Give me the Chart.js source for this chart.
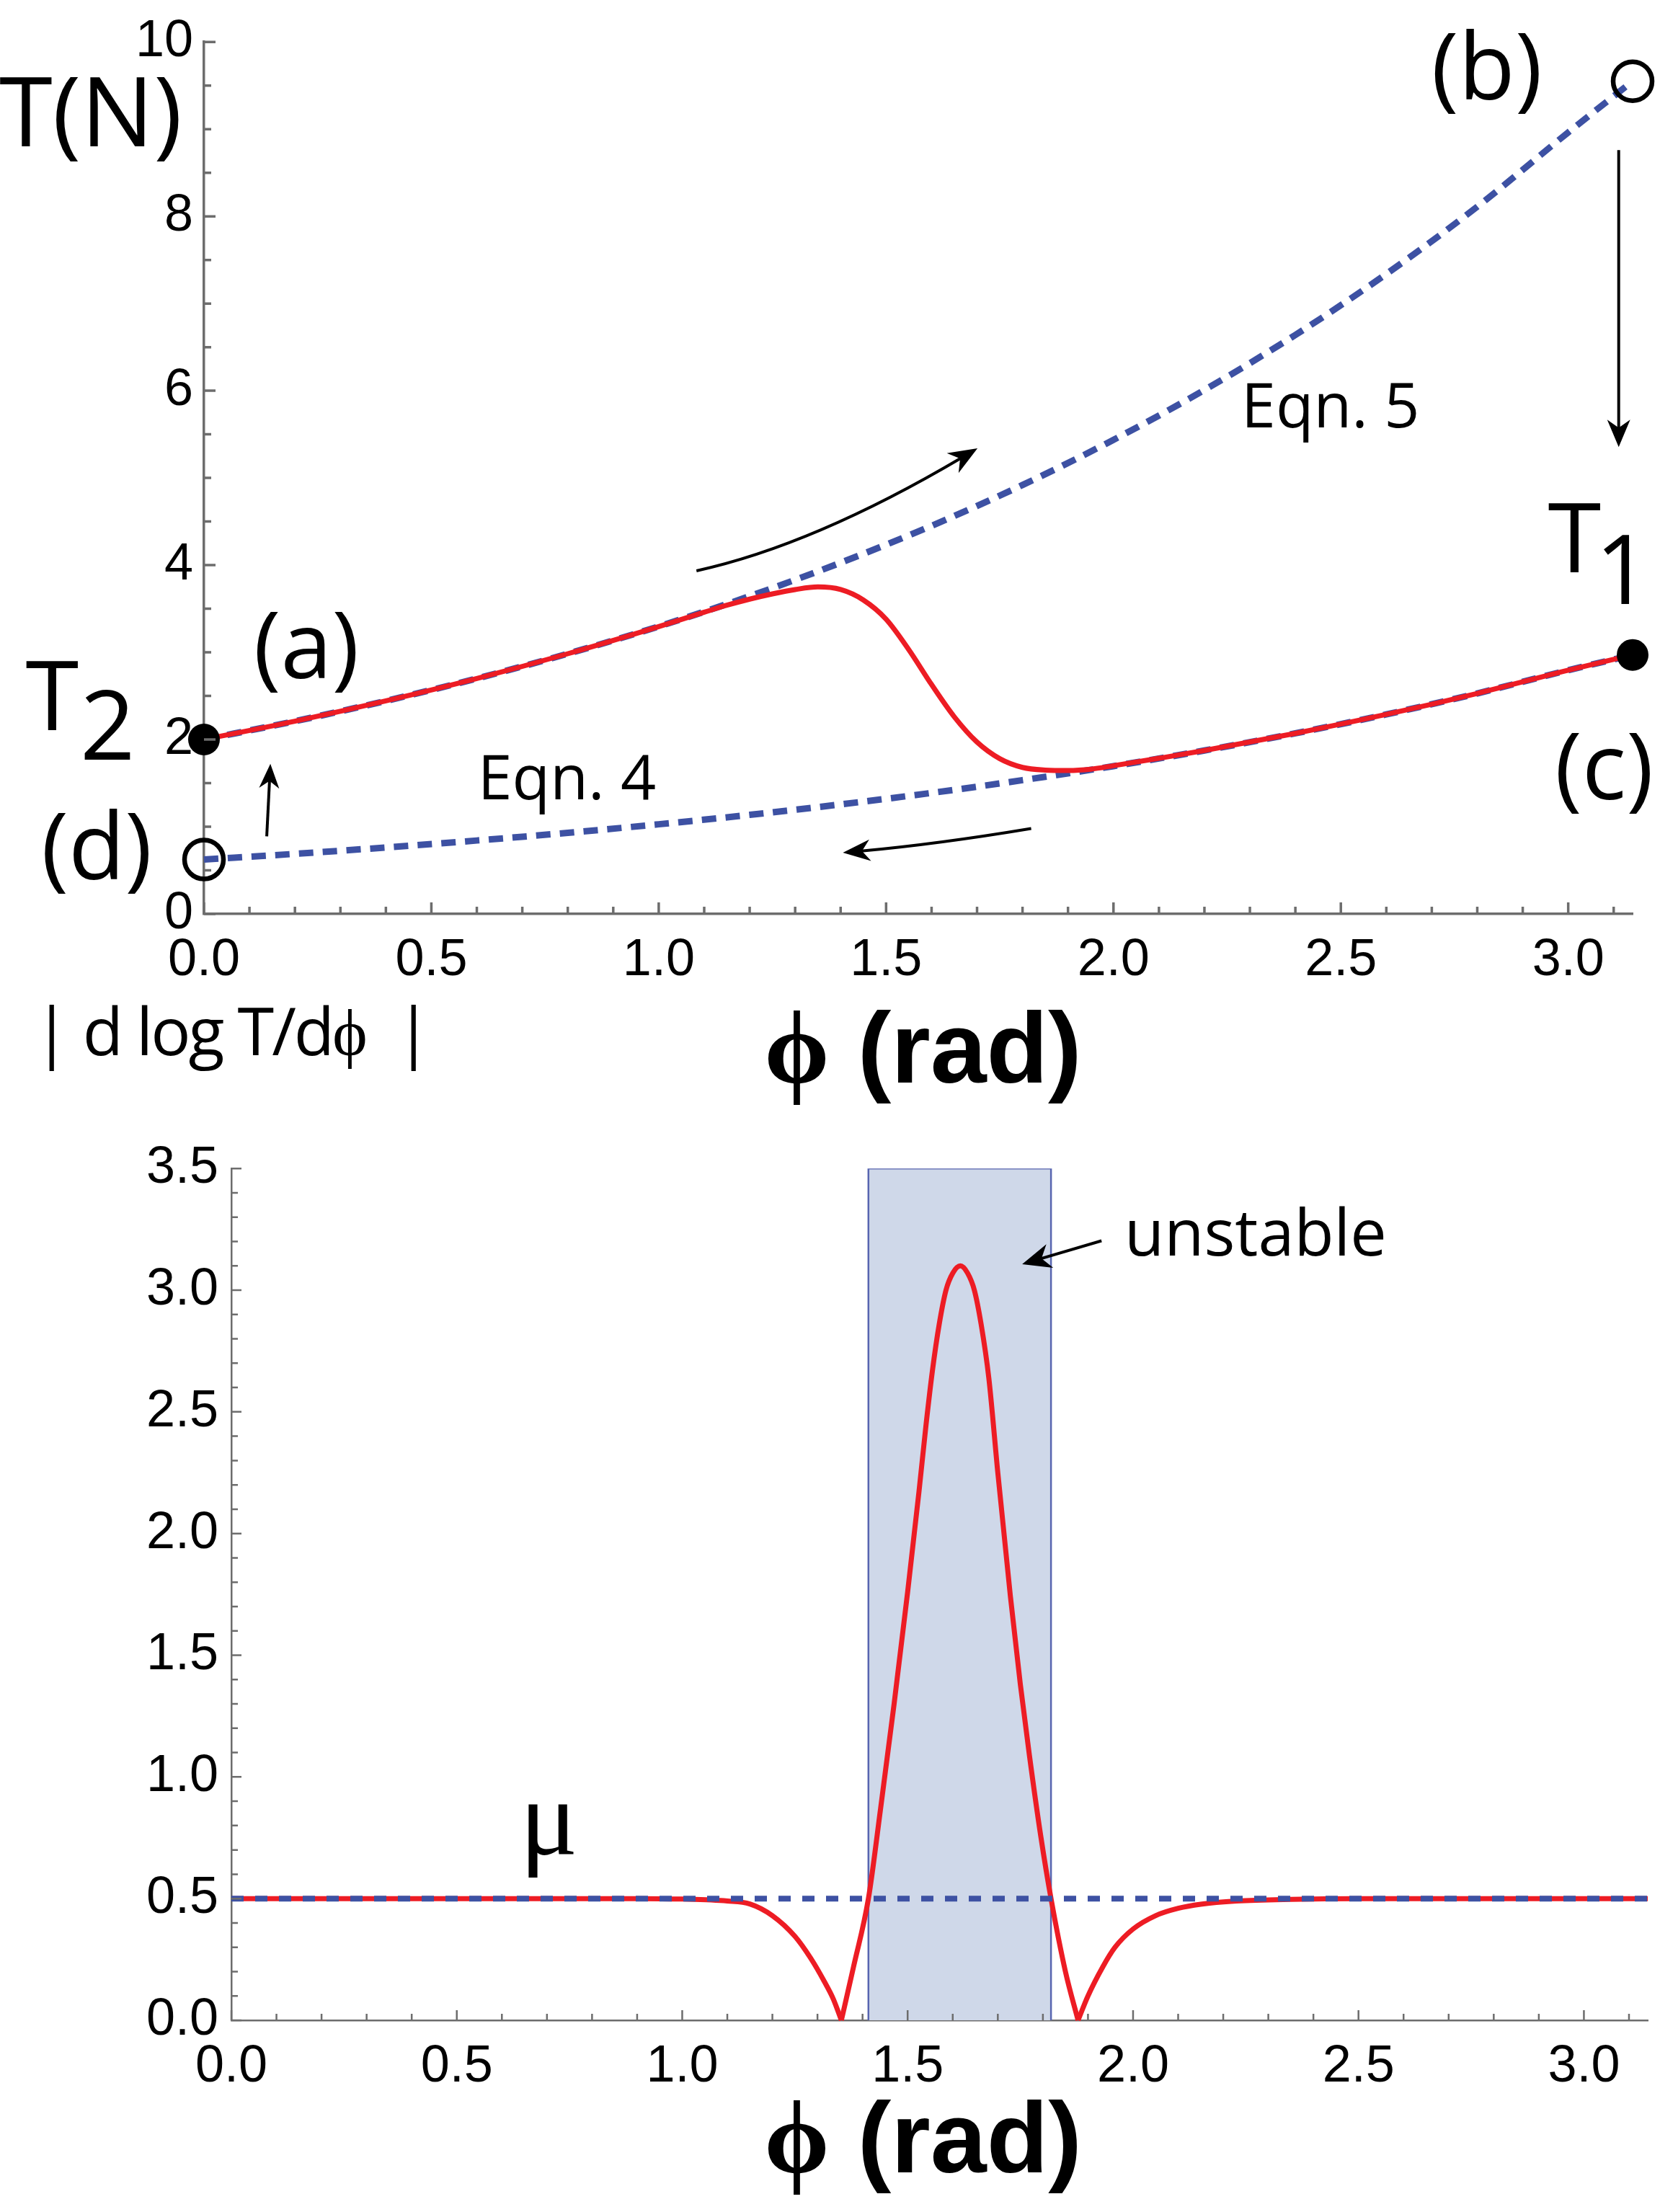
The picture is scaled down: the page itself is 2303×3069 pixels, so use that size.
<!DOCTYPE html>
<html>
<head>
<meta charset="utf-8">
<title>Tension vs wrap angle</title>
<script src="https://cdn.jsdelivr.net/npm/chart.js@4.4.1/dist/chart.umd.min.js"></script>
<style>
  html, body { margin: 0; padding: 0; background: #fff; }
  body { width: 2303px; height: 3069px; position: relative; overflow: hidden; }
  canvas { position: absolute; left: 0; }
  #topChart { top: 0; }
  #bottomChart { top: 1560px; }
</style>
</head>
<body>
<canvas id="topChart" width="2303" height="1560"></canvas>
<canvas id="bottomChart" width="2303" height="1509"></canvas>
<script>
'use strict';

// ---- top panel: T(N) against phi ----
const redPhi = [0, 0.2, 0.4, 0.6, 0.8, 1.0, 1.1, 1.15, 1.2, 1.25, 1.3, 1.35, 1.4, 1.45, 1.5, 1.55,
  1.6, 1.65, 1.7, 1.75, 1.8, 1.85, 1.9, 1.95, 2.0, 2.1, 2.2, 2.4, 2.6, 2.8, 3.0, 3.1416];
const redT = [2.000, 2.210, 2.443, 2.700, 2.984, 3.295, 3.460, 3.540, 3.610, 3.670, 3.720, 3.750,
  3.720, 3.600, 3.380, 3.030, 2.630, 2.260, 1.970, 1.780, 1.680, 1.650, 1.645, 1.660, 1.700,
  1.785, 1.874, 2.071, 2.288, 2.529, 2.795, 2.970];

const eqnPhi = [0, 0.2, 0.4, 0.6, 0.8, 1.0, 1.2, 1.4, 1.6, 1.8, 2.0, 2.2, 2.4, 2.6, 2.8, 3.0, 3.1416];
const eqn5T = [2.000, 2.210, 2.443, 2.700, 2.984, 3.297, 3.644, 4.028, 4.451, 4.919, 5.437,
  6.009, 6.640, 7.339, 8.111, 8.963, 9.550];
const eqn4T = [0.624, 0.689, 0.762, 0.842, 0.930, 1.028, 1.136, 1.256, 1.388, 1.534, 1.695,
  1.874, 2.071, 2.288, 2.529, 2.795, 2.970];

const endPhi = [0, 3.1416];
const closedT = [2.0, 2.97];   // T2 (a) and T1 (c)
const openT = [0.624, 9.55];   // (d) and (b)

const topXTicks = [0, 0.5, 1.0, 1.5, 2.0, 2.5, 3.0];
const topXLabels = ['0.0', '0.5', '1.0', '1.5', '2.0', '2.5', '3.0'];
const topYTicks = [0, 2, 4, 6, 8, 10];
const topYLabels = ['0', '2', '4', '6', '8', '10'];

// ---- bottom panel: |d log T / d phi| ----
const gradPhi = [0, 0.5, 0.9, 1.0, 1.1, 1.15, 1.2, 1.25, 1.285, 1.315, 1.335, 1.353, 1.38, 1.413,
  1.44, 1.47, 1.5, 1.525, 1.541, 1.555, 1.57, 1.585, 1.6, 1.617, 1.633, 1.648, 1.663, 1.68, 1.7,
  1.728, 1.75, 1.77, 1.795, 1.818, 1.85, 1.878, 1.9, 1.933, 1.96, 2.0, 2.05, 2.1, 2.15, 2.23,
  2.35, 2.5, 3.1416];
const gradVal = [0.5, 0.5, 0.5, 0.498, 0.49, 0.478, 0.43, 0.345, 0.255, 0.16, 0.088, 0.0, 0.22, 0.5,
  0.87, 1.3, 1.76, 2.17, 2.45, 2.67, 2.86, 3.0, 3.07, 3.1, 3.07, 3.0, 2.86, 2.64, 2.25,
  1.74, 1.38, 1.09, 0.76, 0.5, 0.2, 0.0, 0.1, 0.22, 0.3, 0.375, 0.43, 0.46, 0.477, 0.49,
  0.497, 0.5, 0.5];

const muPhi = [0, 3.1416];
const muVal = [0.5, 0.5];

const unstablePhi = [1.413, 1.818];
const unstableTop = 3.5;

const botXTicks = [0, 0.5, 1.0, 1.5, 2.0, 2.5, 3.0];
const botXLabels = ['0.0', '0.5', '1.0', '1.5', '2.0', '2.5', '3.0'];
const botYTicks = [0, 0.5, 1.0, 1.5, 2.0, 2.5, 3.0, 3.5];
const botYLabels = ['0.0', '0.5', '1.0', '1.5', '2.0', '2.5', '3.0', '3.5'];

// ---- styling ----
const RED = '#ed1c24';
const BLUE = '#3d51a3';
const AXIS = '#6d6d6d';
const SANS = '"Open Sans", "Noto Sans", sans-serif';
const SERIF = '"Liberation Serif", "DejaVu Serif", serif';
const TICKFONT = '"Liberation Sans", Arial, sans-serif';

const pts = (xs, ys) => xs.map((x, i) => ({ x: x, y: ys[i] }));

function arrowHead(ctx, x, y, ang, len, wid) {
  ctx.save();
  ctx.translate(x, y);
  ctx.rotate(ang);
  ctx.beginPath();
  ctx.moveTo(0, 0);
  ctx.lineTo(-len, -wid / 2);
  ctx.lineTo(-len * 0.7, 0);
  ctx.lineTo(-len, wid / 2);
  ctx.closePath();
  ctx.fill();
  ctx.restore();
}

function drawRuns(ctx, runs, x, y, align, spacing) {
  ctx.letterSpacing = spacing || '0px';
  let total = 0;
  runs.forEach(([t, f]) => { ctx.font = f; total += ctx.measureText(t).width; });
  let cx = align === 'center' ? x - total / 2 : x;
  ctx.textAlign = 'left';
  ctx.textBaseline = 'alphabetic';
  runs.forEach(([t, f]) => {
    ctx.font = f;
    ctx.fillText(t, cx, y);
    cx += ctx.measureText(t).width;
  });
  ctx.letterSpacing = '0px';
}

// text labels and arrows, placed in data units of the chart
function notesPlugin(id, notes) {
  return {
    id: id,
    afterDraw(chart) {
      const { ctx } = chart;
      const sx = chart.scales.x, sy = chart.scales.y;
      const P = p => [sx.getPixelForValue(p[0]), sy.getPixelForValue(p[1])];
      ctx.save();
      ctx.fillStyle = '#000';
      ctx.strokeStyle = '#000';
      notes.forEach(n => {
        if (n.runs) {
          const [x, y] = P(n.at);
          drawRuns(ctx, n.runs, x, y, n.align || 'center', n.spacing);
          return;
        }
        const a = P(n.from), b = P(n.to);
        const c = n.via ? P(n.via) : a;
        const ang = Math.atan2(b[1] - c[1], b[0] - c[0]);
        const [len, wid] = n.head;
        const ex = b[0] - Math.cos(ang) * len * 0.6;
        const ey = b[1] - Math.sin(ang) * len * 0.6;
        ctx.lineWidth = n.width || 4;
        ctx.beginPath();
        ctx.moveTo(a[0], a[1]);
        if (n.via) ctx.quadraticCurveTo(c[0], c[1], ex, ey);
        else ctx.lineTo(ex, ey);
        ctx.stroke();
        arrowHead(ctx, b[0], b[1], ang, len, wid);
      });
      ctx.restore();
    }
  };
}

// inward tick marks (major + minor), like the original frame
function ticksPlugin(id, spec) {
  return {
    id: id,
    afterDraw(chart) {
      const { ctx, chartArea: area } = chart;
      const sx = chart.scales.x, sy = chart.scales.y;
      const isMajor = (v, step) => Math.abs(v / step - Math.round(v / step)) < 1e-6;
      ctx.save();
      ctx.strokeStyle = AXIS;
      ctx.lineWidth = spec.width;
      ctx.beginPath();
      for (let i = 0; i * spec.xMinor <= sx.max + 1e-9; i++) {
        const v = i * spec.xMinor;
        const p = sx.getPixelForValue(v);
        const len = isMajor(v, spec.xMajor) ? spec.major : spec.minor;
        ctx.moveTo(p, area.bottom);
        ctx.lineTo(p, area.bottom - len);
      }
      for (let i = 0; i * spec.yMinor <= sy.max + 1e-9; i++) {
        const v = i * spec.yMinor;
        const p = sy.getPixelForValue(v);
        const len = isMajor(v, spec.yMajor) ? spec.major : spec.minor;
        ctx.moveTo(area.left, p);
        ctx.lineTo(area.left + len, p);
      }
      ctx.stroke();
      ctx.restore();
    }
  };
}

function axis(opts) {
  return {
    type: 'linear',
    position: opts.position,
    min: opts.min,
    max: opts.max,
    grid: { display: false, drawTicks: false },
    border: { display: true, color: AXIS, width: opts.borderWidth },
    afterBuildTicks: scale => { scale.ticks = opts.ticks.map(v => ({ value: v })); },
    afterFit: scale => {
      if (opts.position === 'left') scale.width = opts.size;
      else scale.height = opts.size;
    },
    ticks: {
      autoSkip: false,
      maxRotation: 0,
      padding: opts.padding,
      color: '#000',
      font: { family: TICKFONT, size: 72 },
      callback: (value, index) => opts.labels[index]
    }
  };
}

const baseOptions = (padding, xAxis, yAxis) => ({
  responsive: false,
  animation: false,
  devicePixelRatio: 1,
  events: [],
  layout: { padding: padding, autoPadding: false },
  plugins: { legend: { display: false }, tooltip: { enabled: false } },
  elements: { point: { radius: 0 } },
  scales: { x: xAxis, y: yAxis }
});

// ---- top chart ----
const F_BIG = '134px ' + SANS;
const F_PAR = '128px ' + SANS;
const F_EQN = '86px ' + SANS;
const F_YLAB = '92px ' + SANS;
const F_PHI = 'bold 145px ' + SERIF;
const F_RAD = 'bold 140px "Liberation Sans", Arial, sans-serif';

const topNotes = [
  { runs: [['T(N)', F_BIG]], at: [-0.249, 8.80] },
  { runs: [['(b)', F_PAR]], at: [2.821, 9.339] },
  { runs: [['Eqn. 5', F_EQN]], at: [2.477, 5.576] },
  { runs: [['T', F_BIG]], at: [3.014, 3.918] },
  { runs: [['1', F_BIG]], at: [3.120, 3.551] },
  { runs: [['(c)', F_PAR]], at: [3.079, 1.314] },
  { runs: [['(a)', F_PAR]], at: [0.225, 2.702] },
  { runs: [['T', F_BIG]], at: [-0.334, 2.106] },
  { runs: [['2', F_BIG]], at: [-0.212, 1.771] },
  { runs: [['Eqn. 4', F_EQN]], at: [0.798, 1.314] },
  { runs: [['(d)', F_PAR]], at: [-0.236, 0.40] },
  { runs: [['| d log T/d', F_YLAB], ['\u03D5', '92px ' + SERIF], ['  |', F_YLAB]],
    at: [-0.375, -1.624], align: 'left', spacing: '-3px' },
  { runs: [['\u03D5', F_PHI], [' (rad)', F_RAD]], at: [1.232, -1.935], align: 'left' },
  { from: [1.083, 3.935], via: [1.341, 4.229], to: [1.701, 5.339], head: [40, 32] },
  { from: [3.111, 8.759], to: [3.111, 5.355], head: [38, 32] },
  { from: [1.819, 0.980], via: [1.612, 0.800], to: [1.405, 0.702], head: [38, 30] },
  { from: [0.138, 0.890], to: [0.146, 1.722], head: [34, 28] }
];

new Chart(document.getElementById('topChart'), {
  type: 'line',
  data: {
    datasets: [
      { label: 'T1, T2', data: pts(endPhi, closedT), showLine: false, pointRadius: 22,
        pointBackgroundColor: '#000', pointBorderWidth: 0, clip: false, order: 0 },
      { label: '(b), (d)', data: pts(endPhi, openT), showLine: false, pointRadius: 27,
        pointBackgroundColor: 'rgba(0,0,0,0)', pointBorderColor: '#000', pointBorderWidth: 6.5,
        clip: false, order: 1 },
      { label: 'T', data: pts(redPhi, redT), borderColor: RED, borderWidth: 7,
        cubicInterpolationMode: 'monotone', clip: false, order: 2 },
      { label: 'Eqn. 5', data: pts(eqnPhi, eqn5T), borderColor: BLUE, borderWidth: 9,
        borderDash: [20, 13], cubicInterpolationMode: 'monotone', clip: false, order: 3 },
      { label: 'Eqn. 4', data: pts(eqnPhi, eqn4T), borderColor: BLUE, borderWidth: 9,
        borderDash: [20, 13], cubicInterpolationMode: 'monotone', clip: false, order: 4 }
    ]
  },
  options: baseOptions(
    { top: 43, right: 38, bottom: 172, left: 0 },
    axis({ position: 'bottom', min: 0, max: Math.PI, ticks: topXTicks, labels: topXLabels,
      size: 120, padding: 22, borderWidth: 3.5 }),
    axis({ position: 'left', min: 0, max: 10, ticks: topYTicks, labels: topYLabels,
      size: 283, padding: 15, borderWidth: 3.5 })
  ),
  plugins: [
    ticksPlugin('topTicks', { xMinor: 0.1, xMajor: 0.5, yMinor: 0.5, yMajor: 2, major: 16, minor: 10, width: 3.5 }),
    notesPlugin('topNotes', topNotes)
  ]
});

// ---- bottom chart ----
const bottomNotes = [
  { runs: [['unstable', '90px ' + SANS]], at: [1.981, 3.142], align: 'left' },
  { from: [1.930, 3.203], to: [1.754, 3.107], head: [40, 34] },
  { runs: [['\u03BC', '150px ' + SERIF]], at: [0.704, 0.681] },
  { runs: [['\u03D5', F_PHI], [' (rad)', F_RAD]], at: [1.182, -0.626], align: 'left' }
];

const boxPts = [
  { x: unstablePhi[0], y: 0 },
  { x: unstablePhi[0], y: unstableTop },
  { x: unstablePhi[1], y: unstableTop },
  { x: unstablePhi[1], y: 0 }
];

// the red curve has two sharp zeros (cusps): draw it in three smooth pieces split there
const cusps = gradVal.map((v, i) => (v === 0 ? i : -1)).filter(i => i >= 0);
const gradPieces = [
  [0, cusps[0]],
  [cusps[0], cusps[1]],
  [cusps[1], gradPhi.length - 1]
].map(([a, b]) => pts(gradPhi.slice(a, b + 1), gradVal.slice(a, b + 1)));

new Chart(document.getElementById('bottomChart'), {
  type: 'line',
  data: {
    datasets: [
      { label: 'mu', data: pts(muPhi, muVal), borderColor: BLUE, borderWidth: 8,
        borderDash: [17, 16], clip: false, order: 0 },
      ...gradPieces.map(piece => ({
        label: '|d log T/d phi|', data: piece, borderColor: RED, borderWidth: 7,
        cubicInterpolationMode: 'monotone', clip: false, order: 1
      })),
      { label: 'unstable', data: boxPts, borderColor: '#5865b0', borderWidth: 2.5,
        backgroundColor: '#cfd8e9', fill: 'origin', tension: 0, order: 2 }
    ]
  },
  options: baseOptions(
    { top: 30, right: 17, bottom: 146, left: 0 },
    axis({ position: 'bottom', min: 0, max: Math.PI, ticks: botXTicks, labels: botXLabels,
      size: 120, padding: 22, borderWidth: 2.5 }),
    axis({ position: 'left', min: 0, max: 3.5, ticks: botYTicks, labels: botYLabels,
      size: 321, padding: 18, borderWidth: 2.5 })
  ),
  plugins: [
    ticksPlugin('botTicks', { xMinor: 0.1, xMajor: 0.5, yMinor: 0.1, yMajor: 0.5, major: 14, minor: 9, width: 2.5 }),
    notesPlugin('botNotes', bottomNotes)
  ]
});
</script>
</body>
</html>
